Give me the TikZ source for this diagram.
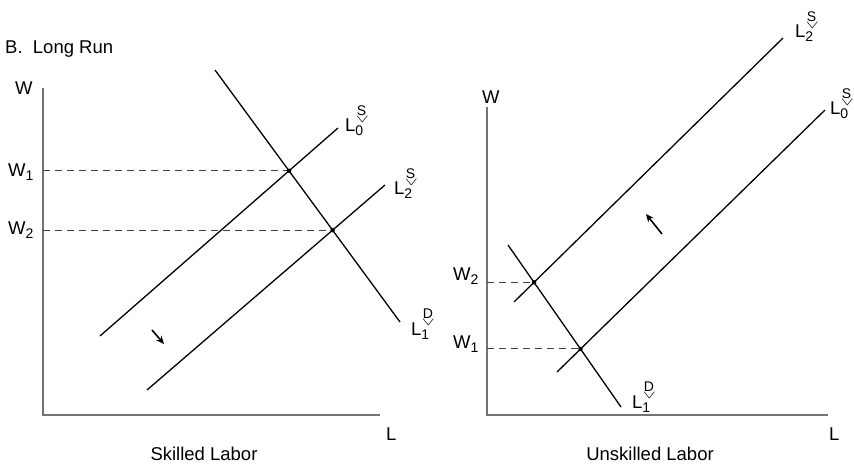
\documentclass[tikz,border=0pt]{standalone}
\usepackage{fontspec}
\setmainfont{Liberation Sans}
\usepackage{graphicx}
\usetikzlibrary{arrows.meta, positioning, intersections}
% curve label: L, subscript, and S/D over a small check
\newcommand{\curvelab}[2]{%
  L\makebox[0pt][l]{\raisebox{-4pt}{\fontsize{14}{14}\selectfont #1}}%
  \makebox[0pt][l]{\hspace{0.5pt}\raisebox{9.5pt}{\resizebox{13pt}{6pt}{$\vee$}}}%
  \makebox[0pt][l]{\hspace{1.5pt}\raisebox{16.5pt}{\fontsize{14}{14}\selectfont #2}}%
  \hspace{9pt}}
\newcommand{\wagelab}[1]{W\raisebox{-4pt}{\fontsize{14}{14}\selectfont #1}}

\begin{document}
\begin{tikzpicture}[x=1pt, y=-1pt,
    every node/.style={font=\fontsize{18.5}{22}\selectfont, inner sep=0pt},
    axisline/.style={draw=black!55, line width=1.3pt},
    curveline/.style={draw=black, line width=1.3pt},
    guide/.style={draw=black!75, line width=1pt, dash pattern=on 7pt off 5pt},
    eqdot/.style={circle, fill=black, minimum size=4.5pt, inner sep=0pt},
    shiftarrow/.style={-{Stealth[length=8pt, width=7pt]}, line width=1.6pt}
  ]
  \useasboundingbox (0,0) rectangle (854,465);

  \node[anchor=base west] (title) at (5,54) {B.~~Long Run};

  % Left panel: skilled labor
  \coordinate (ltop) at (43,88);
  \coordinate (lorig) at (43,415);
  \coordinate (lend) at (380,415);
  \draw[axisline] (ltop) -- (lorig) -- (lend);
  \node[anchor=base west] (lW) at (15,95) {W};
  \node[anchor=base west] (lL) at (386,440) {L};
  \node[anchor=base] (lcap) at (204,460) {Skilled Labor};

  \coordinate (lDa) at (215,70);
  \coordinate (lDb) at (400,322);
  \coordinate (lS0a) at (100,336);
  \coordinate (lS0b) at (338,128);
  \coordinate (lS2a) at (147,390);
  \coordinate (lS2b) at (385,185);
  \draw[curveline, name path=lD] (lDa) -- (lDb);
  \draw[curveline, name path=lS0] (lS0a) -- (lS0b);
  \draw[curveline, name path=lS2] (lS2a) -- (lS2b);
  \path[name intersections={of=lD and lS0, by=lE1}];
  \path[name intersections={of=lD and lS2, by=lE2}];
  \draw[guide] (lE1 -| lorig) -- (lE1);
  \draw[guide] (lE2 -| lorig) -- (lE2);
  \node[eqdot] (lP1) at (lE1) {};
  \node[eqdot] (lP2) at (lE2) {};
  \node[anchor=base west] (lW1) at (8,177) {\wagelab{1}};
  \node[anchor=base west] (lW2) at (8,235) {\wagelab{2}};

  \node[anchor=base west] (lS0lab) at (345,132) {\curvelab{0}{S}};
  \node[anchor=base west] (lS2lab) at (394,195) {\curvelab{2}{S}};
  \node[anchor=base west] (lDlab) at (411,335) {\curvelab{1}{D}};

  \coordinate (la1) at (152,330);
  \coordinate (la2) at (164,344);
  \draw[shiftarrow] (la1) -- (la2);

  % Right panel: unskilled labor
  \coordinate (rtop) at (487,107);
  \coordinate (rorig) at (487,415);
  \coordinate (rend) at (828,415);
  \draw[axisline] (rtop) -- (rorig) -- (rend);
  \node[anchor=base west] (rW) at (482,104) {W};
  \node[anchor=base west] (rL) at (829,440) {L};
  \node[anchor=base] (rcap) at (650,460) {Unskilled Labor};

  \coordinate (rDa) at (508,245);
  \coordinate (rDb) at (621,407);
  \coordinate (rS2a) at (514,302);
  \coordinate (rS2b) at (783,38);
  \coordinate (rS0a) at (557,372);
  \coordinate (rS0b) at (825,110);
  \draw[curveline, name path=rD] (rDa) -- (rDb);
  \draw[curveline, name path=rS2] (rS2a) -- (rS2b);
  \draw[curveline, name path=rS0] (rS0a) -- (rS0b);
  \path[name intersections={of=rD and rS2, by=rE2}];
  \path[name intersections={of=rD and rS0, by=rE1}];
  \draw[guide] (rE2 -| rorig) -- (rE2);
  \draw[guide] (rE1 -| rorig) -- (rE1);
  \node[eqdot] (rP2) at (rE2) {};
  \node[eqdot] (rP1) at (rE1) {};
  \node[anchor=base west] (rW2) at (453,280) {\wagelab{2}};
  \node[anchor=base west] (rW1) at (453,348) {\wagelab{1}};

  \node[anchor=base west] (rS2lab) at (795,38) {\curvelab{2}{S}};
  \node[anchor=base west] (rS0lab) at (830,115) {\curvelab{0}{S}};
  \node[anchor=base west] (rDlab) at (632,408) {\curvelab{1}{D}};

  \coordinate (ra1) at (662,234);
  \coordinate (ra2) at (646,214);
  \draw[shiftarrow] (ra1) -- (ra2);
\end{tikzpicture}
\end{document}
